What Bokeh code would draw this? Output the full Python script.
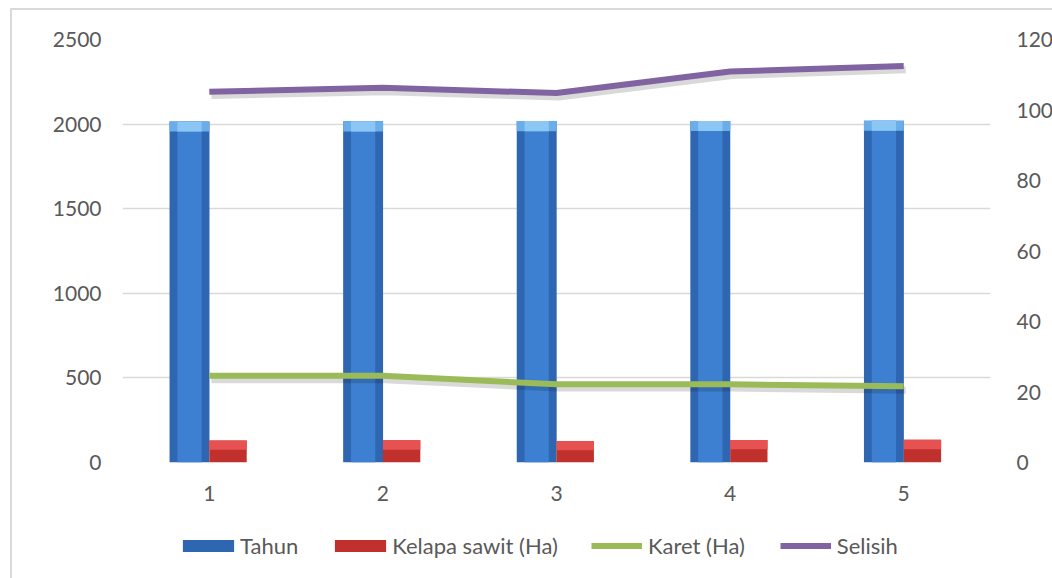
from bokeh.plotting import figure
from bokeh.layouts import column
from bokeh.models import (Range1d, LinearAxis, FixedTicker, Legend, LegendItem,
                          ColumnDataSource)
from bokeh.embed import file_html
from bokeh.resources import INLINE

# ---- data ----
categories = [1, 2, 3, 4, 5]
tahun = [2016, 2017, 2018, 2019, 2020]
kelapa_sawit = [130, 131, 127, 133, 134]
karet = [24.6, 24.6, 22.2, 22.2, 21.6]
selisih = [105.2, 106.3, 104.8, 110.9, 112.5]
left_ticks = [0, 500, 1000, 1500, 2000, 2500]
right_ticks = [0, 20, 40, 60, 80, 100, 120]
series_names = ["Tahun", "Kelapa sawit (Ha)", "Karet (Ha)", "Selisih"]

FONT = "Lato"
TXT = "#595959"
GRID = "#d9d9d9"
C_TAHUN = "#2f66b1"
C_KELAPA = "#c0302c"
C_KARET = "#9bbb59"
C_SELISIH = "#8064a2"

p = figure(width=1040, height=502, frame_width=868, frame_height=423,
           output_backend="svg", toolbar_location=None,
           x_range=Range1d(0.5, 5.5), y_range=Range1d(0, 2500),
           min_border_left=110, min_border_right=62, min_border_top=29,
           min_border_bottom=50, background_fill_color="white",
           border_fill_color="white", outline_line_color=None)
p.extra_y_ranges = {"r": Range1d(0, 120)}

xs = categories
src = ColumnDataSource(dict(x=xs,
                            xt=[x - 0.114 for x in xs],
                            xk=[x + 0.108 for x in xs],
                            tahun=tahun, kelapa=kelapa_sawit,
                            karet=karet, selisih=selisih,
                            tcap=[v - 60 for v in tahun],
                            kcap=[v - 55 for v in kelapa_sawit],
                            karet_sh=[v - 1.1 for v in karet],
                            selisih_sh=[v - 1.1 for v in selisih],
                            xsh=[x + 0.012 for x in xs]))

# Tahun bars (cylinder-like)
p.vbar(x="xt", top="tahun", bottom=0, width=0.23, source=src,
       fill_color=C_TAHUN, line_color=None)
p.vbar(x="xt", top="tahun", bottom=0, width=0.14, source=src,
       fill_color="#3d7fd0", line_color=None)
p.vbar(x="xt", top="tahun", bottom="tcap", width=0.23, source=src,
       fill_color="#6aaee9", line_color=None)
p.vbar(x="xt", top="tahun", bottom="tcap", width=0.14, source=src,
       fill_color="#8cc6f4", line_color=None)

# Kelapa sawit bars
p.vbar(x="xk", top="kelapa", bottom=0, width=0.215, source=src,
       fill_color=C_KELAPA, line_color=None)
p.vbar(x="xk", top="kelapa", bottom="kcap", width=0.215, source=src,
       fill_color="#e65252", line_color=None)

# Lines on the secondary axis with soft shadows
p.line(x="xsh", y="karet_sh", source=src, line_width=7, line_color="black",
       line_alpha=0.15, y_range_name="r")
p.line(x="x", y="karet", source=src, line_width=6, line_color=C_KARET,
       y_range_name="r")
p.line(x="xsh", y="selisih_sh", source=src, line_width=7, line_color="black",
       line_alpha=0.15, y_range_name="r")
p.line(x="x", y="selisih", source=src, line_width=6, line_color=C_SELISIH,
       y_range_name="r")

# axes
p.xaxis.ticker = FixedTicker(ticks=categories)
p.yaxis.ticker = FixedTicker(ticks=left_ticks)
ra = LinearAxis(y_range_name="r", ticker=FixedTicker(ticks=right_ticks))
p.add_layout(ra, "right")

for ax in [p.xaxis[0], p.yaxis[0], ra]:
    ax.major_label_text_font = FONT
    ax.major_label_text_font_size = "21px"
    ax.major_label_text_color = TXT
    ax.major_tick_line_color = None
    ax.minor_tick_line_color = None
    ax.axis_line_color = None
p.xaxis.major_label_standoff = 17
p.yaxis[0].major_label_standoff = 15
ra.major_label_standoff = 20

p.xgrid.grid_line_color = None
p.ygrid.grid_line_color = GRID
p.ygrid.grid_line_width = 1.5

# ---- legend strip (separate small figure; series drawn on an off-screen
#      range below the strip so that only the legend swatches show) ----
lg = figure(width=1040, height=66, output_backend="svg", toolbar_location=None,
            x_range=Range1d(0.5, 5.5), y_range=Range1d(0, 66),
            min_border=0, outline_line_color=None,
            background_fill_color="white", border_fill_color="white")
lg.extra_y_ranges = {"off": Range1d(5000, 6000)}
lg.xaxis.visible = False
lg.yaxis.visible = False
lg.grid.visible = False
k1 = lg.vbar(x="x", top="tahun", bottom=0, width=0.2, source=src,
             y_range_name="off", fill_color=C_TAHUN, line_color=None)
k2 = lg.vbar(x="x", top="kelapa", bottom=0, width=0.2, source=src,
             y_range_name="off", fill_color=C_KELAPA, line_color=None)
k3 = lg.line(x="x", y="karet", source=src, y_range_name="off",
             line_width=6, line_color=C_KARET)
k4 = lg.line(x="x", y="selisih", source=src, y_range_name="off",
             line_width=6, line_color=C_SELISIH)

common = dict(orientation="horizontal", glyph_height=15, padding=0, margin=0,
              border_line_color=None, background_fill_alpha=0,
              label_text_font=FONT, label_text_font_size="22px",
              label_text_color=TXT, label_height=20,
              label_text_baseline="middle")
leg_bars = Legend(items=[LegendItem(label=series_names[0], renderers=[k1]),
                         LegendItem(label=series_names[1], renderers=[k2])],
                  location=(54, 19), glyph_width=64, label_standoff=0,
                  spacing=30, **common)
leg_lines = Legend(items=[LegendItem(label=series_names[2], renderers=[k3]),
                          LegendItem(label=series_names[3], renderers=[k4])],
                   location=(469, 19), glyph_width=51, label_standoff=6,
                   spacing=35, **common)
lg.add_layout(leg_bars, "center")
lg.add_layout(leg_lines, "center")

layout = column(p, lg, spacing=0)
layout.styles = {"margin-left": "10px", "margin-top": "8px",
                 "border-left": f"2px solid {GRID}", "border-top": f"2px solid {GRID}"}

open("out.html", "w").write(file_html(layout, INLINE))
